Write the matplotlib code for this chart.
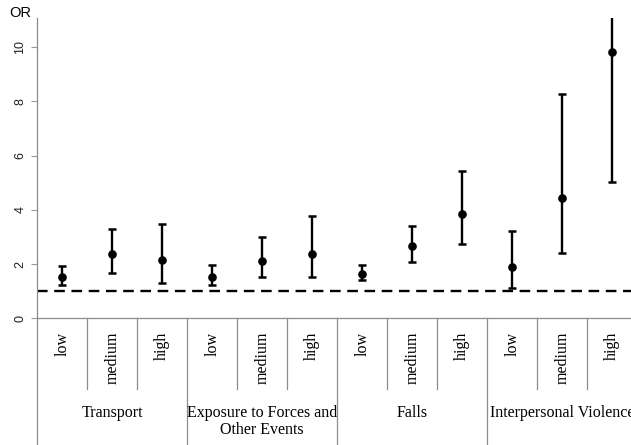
import matplotlib
matplotlib.use("Agg")
import matplotlib.pyplot as plt
from matplotlib.transforms import blended_transform_factory

groups = ["Transport", "Exposure to Forces and\nOther Events", "Falls", "Interpersonal Violence"]
levels = ["low", "medium", "high"]

odds_ratio = [1.54, 2.36, 2.14, 1.54, 2.12, 2.38, 1.65, 2.66, 3.84, 1.88, 4.44, 9.81]
ci_lower = [1.24, 1.67, 1.30, 1.24, 1.51, 1.53, 1.40, 2.09, 2.74, 1.12, 2.39, 5.03]
ci_upper = [1.92, 3.30, 3.46, 1.95, 3.01, 3.77, 1.95, 3.40, 5.43, 3.22, 8.26, 11.30]

yticks = [0, 2, 4, 6, 8, 10]
reference_or = 1.0

W, H = 631, 445
fig = plt.figure(figsize=(W / 100, H / 100), dpi=100)
ax_left, ax_bottom_px, ax_top_px = 37.3, 318.3, 18.0
ax = fig.add_axes([ax_left / W, (H - ax_bottom_px) / H, 600 / W, (ax_bottom_px - ax_top_px) / H])

n = len(odds_ratio)
xs = [i + 0.5 for i in range(n)]
yerr = [[o - l for o, l in zip(odds_ratio, ci_lower)],
        [u - o for o, u in zip(odds_ratio, ci_upper)]]
ax.errorbar(xs, odds_ratio, yerr=yerr, fmt="o", color="black", ms=5.2,
            elinewidth=1.7, capsize=3.2, capthick=1.8, zorder=3)

ax.axhline(reference_or, color="black", lw=1.7, ls=(0, (4.5, 2.8)), zorder=2)

ax.set_xlim(0, n)
ax.set_ylim(0, 11.07)
ax.set_xticks([])
ax.set_yticks(yticks)
ax.set_yticklabels([str(t) for t in yticks], rotation=90, va="center",
                   fontsize=9, family="Liberation Sans", color="#222222")
ax.tick_params(axis="y", length=4, color="#999999", width=0.8, pad=4)
for s in ("top", "right"):
    ax.spines[s].set_visible(False)
for s in ("left", "bottom"):
    ax.spines[s].set_color("#8c8c8c")
    ax.spines[s].set_linewidth(0.9)

fig.text(9 / W, (H - 13) / H, "OR", fontsize=10.5, family="Liberation Sans",
         va="center", ha="left", color="black")

tr = blended_transform_factory(ax.transData, fig.transFigure)
y_axis = (H - ax_bottom_px) / H
y_sub_end = (H - 389) / H
line_kw = dict(color="#8c8c8c", lw=0.9, transform=tr, clip_on=False)

for i in range(1, n):
    if i % 3 == 0:
        ax.plot([i, i], [y_axis, 0], **line_kw)
    else:
        ax.plot([i, i], [y_axis, y_sub_end], **line_kw)
ax.plot([0, 0], [y_axis, 0], **line_kw)

serif = dict(family="Liberation Serif", fontsize=11.5, color="black")
for i, x in enumerate(xs):
    ax.text(x, (H - 332) / H, levels[i % 3], rotation=90, ha="center", va="top",
            transform=tr, clip_on=False, **serif)

for g, name in enumerate(groups):
    cx = g * 3 + 1.5
    yc = (H - 413) / H if "\n" not in name else (H - 421.5) / H
    ax.text(cx, yc, name, ha="center", va="center", multialignment="center",
            linespacing=1.15, transform=tr, clip_on=False, **serif)

fig.savefig("out.png", dpi=100)
